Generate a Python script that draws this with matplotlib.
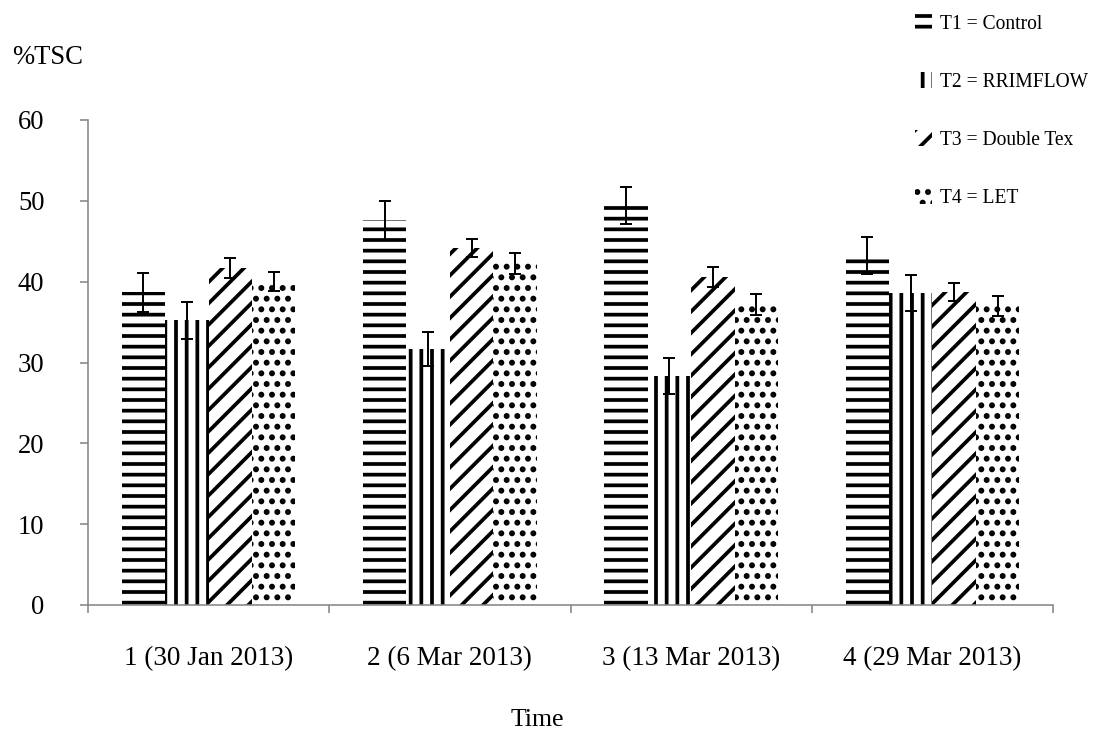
#!/usr/bin/env python3

import numpy as np
import matplotlib
matplotlib.use('Agg')
import matplotlib.pyplot as plt

plt.rcParams['font.family'] = ['Liberation Serif', 'DejaVu Serif']
plt.rcParams['hatch.linewidth'] = 4.2

"""data read off the reference"""
times = ['1 (30 Jan 2013)', '2 (6 Mar 2013)', '3 (13 Mar 2013)', '4 (29 Mar 2013)']
labels = ['T1 = Control', 'T2 = RRIMFLOW', 'T3 = Double Tex', 'T4 = LET']
t1 = [38.7, 47.6, 49.4, 43.2]
t2 = [35.2, 31.7, 28.3, 38.6]
t3 = [41.7, 44.2, 40.6, 38.7]
t4 = [40.0, 42.3, 37.2, 37.0]
t1_err = [2.4, 2.4, 2.3, 2.3]
t2_err = [2.3, 2.1, 2.2, 2.2]
t3_err = [1.2, 1.1, 1.2, 1.1]
t4_err = [1.2, 1.3, 1.3, 1.2]

series = [t1, t2, t3, t4]
errors = [t1_err, t2_err, t3_err, t4_err]
hatches = ['-', '|', '/', '.']

axcol = '#868686'

# dpi 64 so the default hatch density gives ~11 px stripes
fig = plt.figure(figsize=(1094/64, 733/64), dpi=64)
ax = fig.add_axes([88/1094, 1-605/733, (1053-88)/1094, (605-120)/733])

x = np.arange(len(times))
w = 0.18
handles = []
for i in range(4):
    pos = x + (i - 1.5) * w
    b = ax.bar(pos, series[i], w, color='white', edgecolor='black',
               linewidth=0, hatch=hatches[i], label=labels[i])
    ax.errorbar(pos, series[i], yerr=errors[i], fmt='none', ecolor='black',
                elinewidth=2.2, capsize=7, capthick=2.2)
    handles.append(b)

ax.set_xlim(-0.5, 3.5)
ax.set_ylim(0, 60)
ax.set_yticks(range(0, 61, 10))

ax.set_xticks(np.arange(-0.5, 4, 1))
ax.set_xticklabels([])
ax.set_xticks(x, minor=True)
ax.set_xticklabels(times, minor=True)
ax.tick_params(axis='x', which='major', length=9, width=1.8, color=axcol, direction='out')
ax.tick_params(axis='x', which='minor', length=0, pad=46, labelsize=30.5)
ax.tick_params(axis='y', length=9, width=1.8, color=axcol, direction='out', pad=40, labelsize=30)

for s in ['top', 'right']:
    ax.spines[s].set_visible(False)
for s in ['left', 'bottom']:
    ax.spines[s].set_color(axcol)
    ax.spines[s].set_linewidth(1.8)

fig.text(12/1094, 1-57/733, '%TSC', fontsize=30, ha='left', va='center')
fig.text(537/1094, 1-720/733, 'Time', fontsize=29, ha='center', va='center')

ax.legend(handles=handles, loc='upper left', bbox_to_anchor=(915/1094, 1-14/733),
          bbox_transform=fig.transFigure, frameon=False, fontsize=22,
          borderaxespad=0, borderpad=0, handlelength=0.85, handleheight=0.9,
          handletextpad=0.45, labelspacing=1.95)

plt.savefig('out.png', dpi=64)
